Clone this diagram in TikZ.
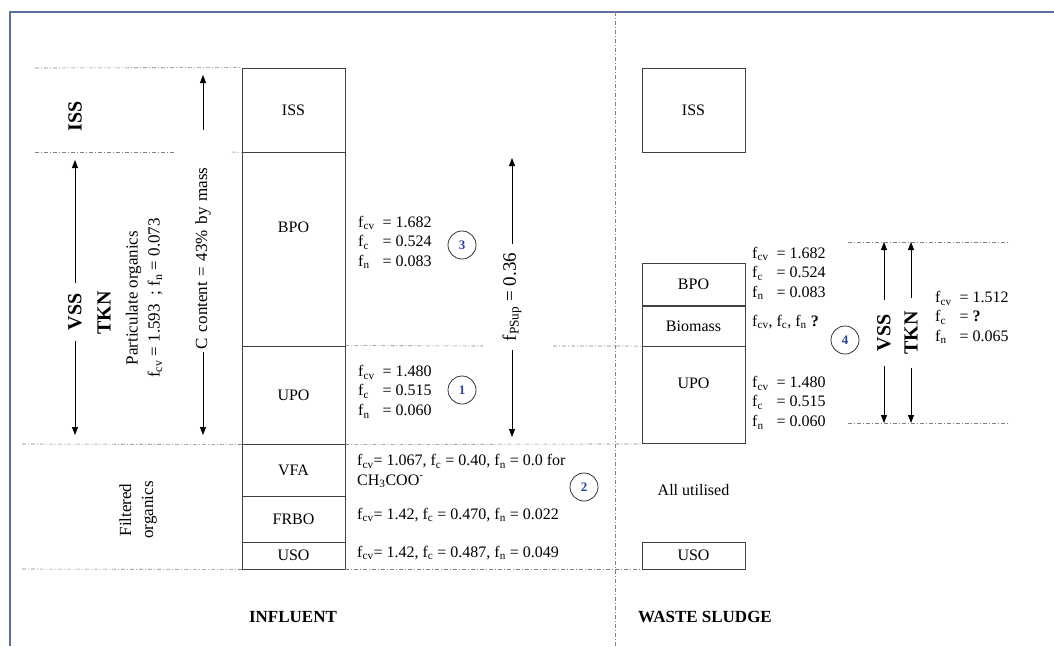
\documentclass[tikz,border=0pt]{standalone}
\usepackage{fontspec}
\setmainfont{Liberation Serif}
\usetikzlibrary{arrows.meta}

\definecolor{framecol}{HTML}{5B6E9C}
\definecolor{numblue}{HTML}{2A44A8}
\newcommand{\fsub}[1]{f\textsubscript{#1}}
\newcommand{\fvals}[3]{\begin{tabular}{@{}l@{\hspace{8pt}}l@{}}\fsub{cv} & = #1\\ \fsub{c} & = #2\\ \fsub{n} & = #3\end{tabular}}

\begin{document}
\begin{tikzpicture}[x=1pt, y=-1pt,
  font=\fontsize{16}{19.5}\selectfont,
  seg/.style={draw=black!75, line width=0.9pt, minimum width=103pt, inner sep=0pt},
  guide/.style={draw=black!50, line width=0.6pt, dash pattern=on 4pt off 2pt on 1pt off 2pt},
  dimarr/.style={-{Triangle[length=8pt,width=6pt]}, line width=0.8pt},
  big/.style={font=\fontsize{20}{24}\selectfont\bfseries, rotate=90},
  side/.style={font=\fontsize{17}{22}\selectfont, rotate=90, align=center},
  vals/.style={anchor=west, inner sep=0pt, align=left},
  num/.style={draw=black!80, circle, minimum size=28pt, inner sep=0pt, line width=0.8pt, text=numblue, font=\fontsize{13}{13}\selectfont\bfseries},
  head/.style={font=\fontsize{17}{20}\selectfont\bfseries},
]
\useasboundingbox (0,0) rectangle (1054,646);
\draw[framecol, line width=1.2pt] (1054,12) -- (10,12) -- (10,646);

% influent column
\node[seg, minimum height=84pt] (in-iss) at (293.5,110) {ISS};
\node[seg, minimum height=194pt, label={[yshift=22pt]center:BPO}] (in-bpo) at (293.5,249) {};
\node[seg, minimum height=98pt] (in-upo) at (293.5,395) {UPO};
\node[seg, minimum height=52pt] (in-vfa) at (293.5,470) {VFA};
\node[seg, minimum height=46pt] (in-frbo) at (293.5,519) {FRBO};
\node[seg, minimum height=27pt] (in-uso) at (293.5,555.5) {USO};

% waste sludge column
\node[seg, minimum height=84pt] (ws-iss) at (693.5,110) {ISS};
\node[seg, minimum height=43pt] (ws-bpo) at (693.5,284.5) {BPO};
\node[seg, minimum height=41pt] (ws-bio) at (693.5,326) {Biomass};
\node[seg, minimum height=97pt, label={[yshift=12pt]center:UPO}] (ws-upo) at (693.5,395) {};
\node[seg, minimum height=27pt] (ws-uso) at (693.5,555.5) {USO};
\node (ws-all) at (693.5,490) {All utilised};

% dash-dot guides
\draw[guide] (35,68) -- (in-iss.north west);
\draw[guide] (35,152) -- (175,152);
\draw[guide] (232,152) -- (in-iss.south west);
\draw[guide] (22,444) -- (in-upo.south west);
\draw[guide] (in-upo.north east) -- (483,346);
\draw[guide] (553,346) -- (ws-upo.north west);
\draw[guide] (in-upo.south east) -- (ws-upo.south west);
\draw[guide] (22,569) -- (in-uso.south west);
\draw[guide] (in-uso.south east) -- (ws-uso.south west);
\draw[guide] (615,12) -- (615,646);
\draw[guide] (848,242) -- (1010,242);
\draw[guide] (848,423) -- (1010,423);

% left side labels
\node[big] (l-iss) at (75,116) {ISS};
\node[big, inner sep=10pt] (l-vss) at (75,312) {VSS};
\coordinate (l-vss-top) at (75,160);
\coordinate (l-vss-bot) at (75,435);
\draw[dimarr] (l-vss) -- (l-vss-top);
\draw[dimarr] (l-vss) -- (l-vss-bot);
\node[big] (l-tkn) at (104,313) {TKN};
\node[side] (l-part) at (144,298) {Particulate organics\\ \fsub{cv} = 1.593 \ ; \fsub{n} = 0.073};
\node[side, text width=216pt, align=left, inner sep=3pt] (l-carbon) at (203,241) {C content = 43\% by mass};
\coordinate (l-carbon-top) at (203,75);
\coordinate (l-carbon-bot) at (203,435);
\draw[dimarr] (l-carbon) -- (l-carbon-top);
\draw[dimarr] (l-carbon) -- (l-carbon-bot);
\node[side] (l-filt) at (138,510) {Filtered\\organics};

% psup
\node[rotate=90, font=\fontsize{19}{22}\selectfont, inner sep=9pt] (psup) at (512,297) {f\textsubscript{PSup} = 0.36};
\coordinate (psup-top) at (512,158);
\coordinate (psup-bot) at (512,437);
\draw[dimarr] (psup) -- (psup-top);
\draw[dimarr] (psup) -- (psup-bot);

% influent fractions
\node[vals] (v-bpo) at (358,243) {\fvals{1.682}{0.524}{0.083}};
\node[num] (n3) at (462,245) {3};
\node[vals] (v-upo) at (358,392) {\fvals{1.480}{0.515}{0.060}};
\node[num] (n1) at (462,390) {1};
\node[vals] (v-vfa) at (357,471) {\fsub{cv}= 1.067, \fsub{c} = 0.40, \fsub{n} = 0.0 for\\CH\textsubscript{3}COO\textsuperscript{-}};
\node[num] (n2) at (584,487) {2};
\node[vals] (v-frbo) at (357,515) {\fsub{cv}= 1.42, \fsub{c} = 0.470, \fsub{n} = 0.022};
\node[vals] (v-uso) at (357,553) {\fsub{cv}= 1.42, \fsub{c} = 0.487, \fsub{n} = 0.049};

% waste sludge fractions
\node[vals] (w-bpo) at (752,274) {\fvals{1.682}{0.524}{0.083}};
\node[vals] (w-bio) at (752,322) {\fsub{cv}, \fsub{c}, \fsub{n} \textbf{?}};
\node[num] (n4) at (845,340) {4};
\node[vals] (w-upo) at (752,403) {\fvals{1.480}{0.515}{0.060}};
\node[vals] (w-tot) at (935,318) {\fvals{1.512}{\textbf{?}}{0.065}};

% right VSS / TKN
\node[big, inner sep=14pt] (r-vss) at (884,333) {VSS};
\node[big, inner sep=13pt] (r-tkn) at (911,333) {TKN};
\coordinate (r-vss-top) at (884,242);
\coordinate (r-vss-bot) at (884,423);
\coordinate (r-tkn-top) at (911,242);
\coordinate (r-tkn-bot) at (911,423);
\draw[dimarr] (r-vss) -- (r-vss-top);
\draw[dimarr] (r-vss) -- (r-vss-bot);
\draw[dimarr] (r-tkn) -- (r-tkn-top);
\draw[dimarr] (r-tkn) -- (r-tkn-bot);

% column headings
\node[head] (lab-in) at (293,617) {INFLUENT};
\node[head] (lab-ws) at (705,617) {WASTE SLUDGE};
\end{tikzpicture}
\end{document}
